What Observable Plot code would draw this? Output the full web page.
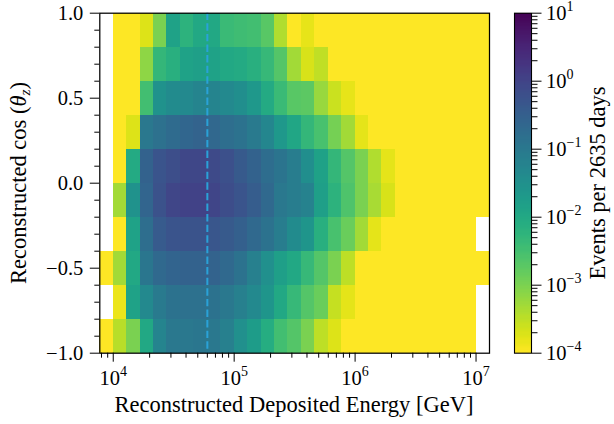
<!DOCTYPE html>
<html>
<head>
<meta charset="utf-8">
<script src="https://cdn.jsdelivr.net/npm/d3@7"></script>
<script src="https://cdn.jsdelivr.net/npm/@observablehq/plot@0.6"></script>
<style>
  html, body { margin: 0; padding: 0; background: #fff; }
  #wrap { position: relative; width: 614px; height: 424px; overflow: hidden; font-family: "Liberation Serif", "DejaVu Serif", serif; }
  #wrap svg { position: absolute; left: 0; top: 0; }
  #wrap svg text { font-family: "Liberation Serif", "DejaVu Serif", serif; }
</style>
</head>
<body>
<div id="wrap"></div>
<script>
// ---------------- data ----------------
// Reconstructed deposited energy bin edges [GeV] (9 bins per decade)
const energyEdges = [
  7.743e3, 1.000e4, 1.292e4, 1.668e4, 2.154e4, 2.783e4, 3.594e4, 4.642e4, 5.995e4, 7.743e4,
  1.000e5, 1.292e5, 1.668e5, 2.154e5, 2.783e5, 3.594e5, 4.642e5, 5.995e5, 7.743e5,
  1.000e6, 1.292e6, 1.668e6, 2.154e6, 2.783e6, 3.594e6, 4.642e6, 5.995e6, 7.743e6,
  1.000e7, 1.292e7
];
// Reconstructed cos(theta_z) bin edges
const cosEdges = [-1.0, -0.8, -0.6, -0.4, -0.2, 0.0, 0.2, 0.4, 0.6, 0.8, 1.0];

// Events per 2635 days in each energy bin (null = empty bin, values < 1e-4 shown at floor colour)
const ratesCosM10toM08 = [5e-5, 3.5e-4, 1e-3, 1e-2, 5.6e-2, 0.1, 0.1, 0.11, 0.1, 7e-2, 3.2e-2, 1.8e-2, 8e-3, 3.2e-3, 2.2e-3, 1e-3, 3.2e-4, 1.8e-4, 5e-5, 5e-5, 5e-5, 5e-5, 5e-5, 5e-5, 5e-5, 5e-5, 5e-5, 5e-5, null];
const ratesCosM08toM06 = [null, 1.4e-4, 1.3e-2, 4.5e-2, 9e-2, 0.13, 0.14, 0.14, 0.13, 0.1, 7e-2, 4.5e-2, 2.5e-2, 1e-2, 4.5e-3, 2.2e-3, 1.4e-3, 2.8e-4, 1.6e-4, 5e-5, 5e-5, 5e-5, 5e-5, 5e-5, 5e-5, 5e-5, 5e-5, 5e-5, null];
const ratesCosM06toM04 = [5e-5, 5e-4, 1e-2, 0.11, 0.2, 0.26, 0.28, 0.28, 0.27, 0.2, 0.13, 7e-2, 3.2e-2, 1.6e-2, 1e-2, 4.5e-3, 2.2e-3, 1e-3, 3.2e-4, 5e-5, 5e-5, 5e-5, 5e-5, 5e-5, 5e-5, 5e-5, 5e-5, 5e-5, 5e-5];
const ratesCosM04toM02 = [null, 5e-5, 1.3e-2, 0.16, 0.38, 0.5, 0.52, 0.52, 0.45, 0.4, 0.3, 0.2, 0.13, 8e-2, 4e-2, 2.5e-2, 7e-3, 2.8e-3, 1.4e-3, 5e-4, 1.6e-4, 5e-5, 5e-5, 5e-5, 5e-5, 5e-5, 5e-5, 5e-5, null];
const ratesCosM02to00 = [null, 5e-4, 2.8e-2, 0.25, 0.55, 0.9, 1.05, 1.05, 0.95, 0.7, 0.5, 0.35, 0.2, 0.1, 8e-2, 6e-2, 1.6e-2, 6e-3, 2.5e-3, 1e-3, 4.5e-4, 2e-4, 5e-5, 5e-5, 5e-5, 5e-5, 5e-5, 5e-5, 5e-5];
const ratesCos00toP02 = [null, 5e-5, 9e-3, 0.28, 0.5, 0.65, 0.85, 0.85, 0.75, 0.6, 0.4, 0.28, 0.17, 0.12, 8e-2, 3.5e-2, 1.4e-2, 5e-3, 2.2e-3, 1e-3, 4e-4, 1.6e-4, 5e-5, 5e-5, 5e-5, 5e-5, 5e-5, 5e-5, 5e-5];
const ratesCosP02toP04 = [null, 5e-5, 1.8e-4, 0.1, 0.14, 0.19, 0.23, 0.27, 0.21, 0.16, 0.13, 9e-2, 5e-2, 2.2e-2, 1.1e-2, 5e-3, 2.8e-3, 1.1e-3, 5e-4, 1.6e-4, 5e-5, 5e-5, 5e-5, 5e-5, 5e-5, 5e-5, 5e-5, 5e-5, 5e-5];
const ratesCosP04toP06 = [null, 5e-5, 5e-5, 3.2e-3, 2.8e-2, 4e-2, 4.5e-2, 5.6e-2, 5.6e-2, 4.5e-2, 3.5e-2, 2.2e-2, 9e-3, 4e-3, 2e-3, 1.8e-3, 6e-4, 2.5e-4, 1.5e-4, 5e-5, 5e-5, 5e-5, 5e-5, 5e-5, 5e-5, 5e-5, 5e-5, 5e-5, 5e-5];
const ratesCosP06toP08 = [null, 5e-5, 5e-5, 7e-4, 5e-3, 7e-3, 1.3e-2, 1.6e-2, 1.3e-2, 1e-2, 9e-3, 7e-3, 4.5e-3, 2.2e-3, 5e-4, 2e-4, 3e-4, 5e-5, 5e-5, 5e-5, 5e-5, 5e-5, 5e-5, 5e-5, 5e-5, 5e-5, 5e-5, 5e-5, 5e-5];
const ratesCosP08toP10 = [null, 5e-5, 5e-5, 1.8e-4, 1e-3, 1.3e-2, 6e-3, 1e-2, 1e-2, 4e-3, 3.6e-3, 3.2e-3, 2e-3, 4e-4, 5e-5, 1.5e-4, 5e-5, 5e-5, 5e-5, 5e-5, 5e-5, 5e-5, 5e-5, 5e-5, 5e-5, 5e-5, 5e-5, 5e-5, 5e-5];

// Reference energy marked by the dashed line [GeV]
const referenceEnergy = [6e4];

// Tick values
const xMajorTicks = [1e4, 1e5, 1e6, 1e7];
const xMinorTicks = [8e3, 9e3, 2e4, 3e4, 4e4, 5e4, 6e4, 7e4, 8e4, 9e4, 2e5, 3e5, 4e5, 5e5, 6e5, 7e5, 8e5, 9e5, 2e6, 3e6, 4e6, 5e6, 6e6, 7e6, 8e6, 9e6];
const yMajorTicks = [-1.0, -0.5, 0.0, 0.5, 1.0];
const yMinorTicks = [-0.9, -0.8, -0.7, -0.6, -0.4, -0.3, -0.2, -0.1, 0.1, 0.2, 0.3, 0.4, 0.6, 0.7, 0.8, 0.9];
const cbMajorTicks = [1e-4, 1e-3, 1e-2, 1e-1, 1e0, 1e1];
const cbMinorTicks = [2e-4, 3e-4, 4e-4, 5e-4, 6e-4, 7e-4, 8e-4, 9e-4, 2e-3, 3e-3, 4e-3, 5e-3, 6e-3, 7e-3, 8e-3, 9e-3, 2e-2, 3e-2, 4e-2, 5e-2, 6e-2, 7e-2, 8e-2, 9e-2, 2e-1, 3e-1, 4e-1, 5e-1, 6e-1, 7e-1, 8e-1, 9e-1, 2, 3, 4, 5, 6, 7, 8, 9];

const xLabel = "Reconstructed Deposited Energy [GeV]";
const yLabelMain = "Reconstructed cos (";
const yLabelTheta = "θ";
const yLabelSub = "z";
const cbLabel = "Events per 2635 days";

// ---------------- build ----------------
const rowsBottomToTop = [ratesCosM10toM08, ratesCosM08toM06, ratesCosM06toM04, ratesCosM04toM02, ratesCosM02to00,
                         ratesCos00toP02, ratesCosP02toP04, ratesCosP04toP06, ratesCosP06toP08, ratesCosP08toP10];
const cells = [];
rowsBottomToTop.forEach((vals, r) => vals.forEach((v, k) => {
  if (v != null) cells.push({x1: energyEdges[k], x2: energyEdges[k + 1], y1: cosEdges[r], y2: cosEdges[r + 1], v});
}));

const FONT = '"Liberation Serif", "DejaVu Serif", serif';
const colorScale = {type: "log", domain: [1e-4, 1e1], scheme: "viridis", reverse: true, clamp: true};
const powFmt = d => "10^" + String(Math.round(Math.log10(d))).replace("-", "\u2212");

const M = {left: 99.3, right: 125, top: 12.7, bottom: 71.3};

const main = Plot.plot({
  width: 614, height: 424,
  marginLeft: M.left, marginRight: M.right, marginTop: M.top, marginBottom: M.bottom,
  style: {fontFamily: FONT, fontSize: "20.5px", color: "#000", background: "transparent", overflow: "visible"},
  x: {type: "log", domain: [energyEdges[0], energyEdges[energyEdges.length - 1]]},
  y: {domain: [-1, 1]},
  color: colorScale,
  marks: [
    Plot.rect(cells, {x1: "x1", x2: "x2", y1: "y1", y2: "y2", fill: "v", shapeRendering: "crispEdges"}),
    Plot.ruleX(referenceEnergy, {stroke: "#2aa2d8", strokeWidth: 2, strokeDasharray: "7.4,3.2"}),
    Plot.frame({stroke: "#000", strokeWidth: 1.25}),
    Plot.axisX(xMajorTicks, {tickSize: 9, tickPadding: 8, tickFormat: powFmt, label: null}),
    Plot.axisX(xMinorTicks, {tickSize: 5, tickFormat: () => "", label: null}),
    Plot.axisY(yMajorTicks, {tickSize: 9.5, tickPadding: 7, tickFormat: d3.format(".1f"), label: null}),
    Plot.axisY(yMinorTicks, {tickSize: 5, tickFormat: () => "", label: null})
  ]
});

const cbSteps = d3.range(300).map(i => {
  const a = -4 + 5 * i / 300, b = -4 + 5 * (i + 1) / 300;
  return {lo: 10 ** a, hi: 10 ** b, mid: 10 ** ((a + b) / 2)};
});

const cb = Plot.plot({
  width: 614, height: 424,
  marginLeft: 514, marginRight: 83, marginTop: M.top, marginBottom: M.bottom,
  style: {fontFamily: FONT, fontSize: "20.5px", color: "#000", background: "transparent", overflow: "visible"},
  x: {domain: [0, 1], axis: null},
  y: {type: "log", domain: [1e-4, 1e1]},
  color: colorScale,
  marks: [
    Plot.rect(cbSteps, {x1: 0, x2: 1, y1: "lo", y2: "hi", fill: "mid", shapeRendering: "crispEdges"}),
    Plot.frame({stroke: "#000", strokeWidth: 1.1}),
    Plot.axisY(cbMajorTicks, {anchor: "right", tickSize: 9.5, tickPadding: 5, tickFormat: powFmt, label: null}),
    Plot.axisY(cbMinorTicks, {anchor: "right", tickSize: 5.5, tickFormat: () => "", label: null})
  ]
});

const wrap = document.getElementById("wrap");
wrap.appendChild(main);
wrap.appendChild(cb);

// superscript powers of ten
function supify(svg) {
  d3.select(svg).selectAll("text").each(function () {
    const m = /^10\^(.+)$/.exec(this.textContent);
    if (!m) return;
    const t = d3.select(this);
    t.text(null);
    t.append("tspan").text("10");
    t.append("tspan").attr("dy", "-9").attr("font-size", "14px").text(m[1]);
  });
}
supify(main);
supify(cb);

// axis labels
const ms = d3.select(main);
ms.append("text")
  .attr("x", 294).attr("y", 412)
  .attr("text-anchor", "middle")
  .attr("font-size", "22.5px").attr("fill", "#000")
  .style("font-family", FONT)
  .text(xLabel);

const yl = ms.append("text")
  .attr("transform", "translate(25.5,183) rotate(-90)")
  .attr("text-anchor", "middle")
  .attr("font-size", "22.5px").attr("fill", "#000")
  .style("font-family", FONT);
yl.append("tspan").text(yLabelMain);
yl.append("tspan").attr("font-style", "italic").text(yLabelTheta);
yl.append("tspan").attr("font-style", "italic").attr("font-size", "15.5px").attr("dy", "4").text(yLabelSub);
yl.append("tspan").attr("dy", "-4").text(")");

d3.select(cb).append("text")
  .attr("transform", "translate(605,183) rotate(-90)")
  .attr("text-anchor", "middle")
  .attr("font-size", "22.5px").attr("fill", "#000")
  .style("font-family", FONT)
  .text(cbLabel);
</script>
</body>
</html>
